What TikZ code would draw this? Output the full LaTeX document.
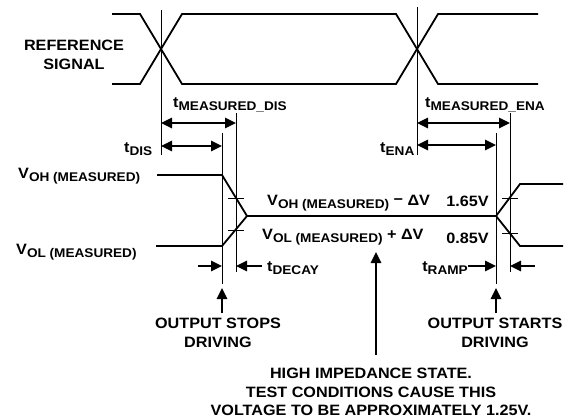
\documentclass[tikz,border=0pt]{standalone}
\usepackage{fontspec}
\setmainfont{Liberation Sans}[FakeStretch=1.08]
\usetikzlibrary{arrows.meta}
\newcommand\subt[2]{#1\raisebox{-3.5pt}{\fontsize{12.6}{12.6}\selectfont #2}}
\begin{document}
\begin{tikzpicture}[x=1pt,y=-1pt,
  lab/.style={inner sep=0pt, font=\fontsize{15}{18.5}\selectfont\bfseries},
  sigline/.style={line width=1.8pt, line join=miter},
  guide/.style={line width=0.8pt},
  ftip/.tip={Triangle[length=11pt,width=10.5pt]},
  dimarrow/.style={line width=1.4pt, ftip-ftip},
  onearrow/.style={line width=1.4pt, -ftip},
]
\useasboundingbox (0,0) rectangle (570,420);

% reference signal
\draw[sigline] (112,14) -- (140,14) -- (182,84) -- (396,84) -- (438,14) -- (538,14);
\draw[sigline] (112,84) -- (140,84) -- (182,14) -- (396,14) -- (438,84) -- (538,84);

% output signal
\draw[sigline] (157,175) -- (222,175) -- (247,216) -- (496,216) -- (520,184) -- (563,184);
\draw[sigline] (156,246) -- (222,246) -- (247,216);
\draw[sigline] (496,216) -- (520,246) -- (563,246);

% guide lines
\draw[guide] (161,10) -- (161,155);
\draw[guide] (417,7) -- (417,155);
\draw[guide] (222,133) -- (222,284);
\draw[guide] (236,113) -- (236,272);
\draw[guide] (496,133) -- (496,284);
\draw[guide] (510,113) -- (510,272);

% ticks
\draw[guide] (228,198) -- (244,198);
\draw[guide] (228,230) -- (244,230);
\draw[guide] (502,198) -- (518,198);
\draw[guide] (502,233) -- (518,233);

% dimension arrows
\coordinate (md0) at (161,123); \coordinate (md1) at (236,123);
\coordinate (d0) at (161,146);  \coordinate (d1) at (222,146);
\coordinate (me0) at (417,123); \coordinate (me1) at (510,123);
\coordinate (e0) at (417,145);  \coordinate (e1) at (496,145);
\draw[dimarrow] (md0) -- (md1);
\draw[dimarrow] (d0) -- (d1);
\draw[dimarrow] (me0) -- (me1);
\draw[dimarrow] (e0) -- (e1);

\coordinate (dc0) at (198,266); \coordinate (dc1) at (222,266);
\coordinate (dc2) at (262,266); \coordinate (dc3) at (236,266);
\coordinate (rp0) at (468,266); \coordinate (rp1) at (496,266);
\coordinate (rp2) at (535,266); \coordinate (rp3) at (510,266);
\draw[onearrow] (dc0) -- (dc1);
\draw[onearrow] (dc2) -- (dc3);
\draw[onearrow] (rp0) -- (rp1);
\draw[onearrow] (rp2) -- (rp3);

% labels
\node[lab, align=center, anchor=north] (ref) at (74,40) {REFERENCE\\SIGNAL};
\node[lab, anchor=base west] (voh) at (18,178) {\subt{V}{OH (MEASURED)}};
\node[lab, anchor=base west] (vol) at (16,254) {\subt{V}{OL (MEASURED)}};
\node[lab, anchor=base west] (vohd) at (267,205) {\subt{V}{OH (MEASURED)} \raisebox{1pt}{−} ΔV};
\node[lab, anchor=base west] (vold) at (262,239) {\subt{V}{OL (MEASURED)} + ΔV};
\node[lab, anchor=base east] (v165) at (489,206) {1.65V};
\node[lab, anchor=base east] (v085) at (489,243) {0.85V};
\node[lab, anchor=base west] (tmd) at (173,107) {\subt{t}{MEASURED\_DIS}};
\node[lab, anchor=base west] (tme) at (425,107) {\subt{t}{MEASURED\_ENA}};
\node[lab, anchor=base west] (tdis) at (124,152) {\subt{t}{DIS}};
\node[lab, anchor=base west] (tena) at (380,152) {\subt{t}{ENA}};
\node[lab, anchor=base west] (tdecay) at (267,271) {\subt{t}{DECAY}};
\node[lab, anchor=base east] (tramp) at (468,271) {\subt{t}{RAMP}};

\node[lab, align=center, anchor=north] (stops) at (218,318) {OUTPUT STOPS\\DRIVING};
\node[lab, align=center, anchor=north] (starts) at (495,318) {OUTPUT STARTS\\DRIVING};
\node[lab, align=center, anchor=north] (hiz) at (371,368) {HIGH IMPEDANCE STATE.\\TEST CONDITIONS CAUSE THIS\\VOLTAGE TO BE APPROXIMATELY 1.25V.};

% pointer arrows
\coordinate (stopstip) at (222,288);
\coordinate (startstip) at (496,288);
\coordinate (hiztip) at (376,252);
\draw[onearrow] (stops.north -| stopstip) ++(0,-5) -- (stopstip);
\draw[onearrow] (starts.north -| startstip) ++(0,-5) -- (startstip);
\draw[onearrow] (hiz.north -| hiztip) ++(0,-13) -- (hiztip);
\end{tikzpicture}
\end{document}
